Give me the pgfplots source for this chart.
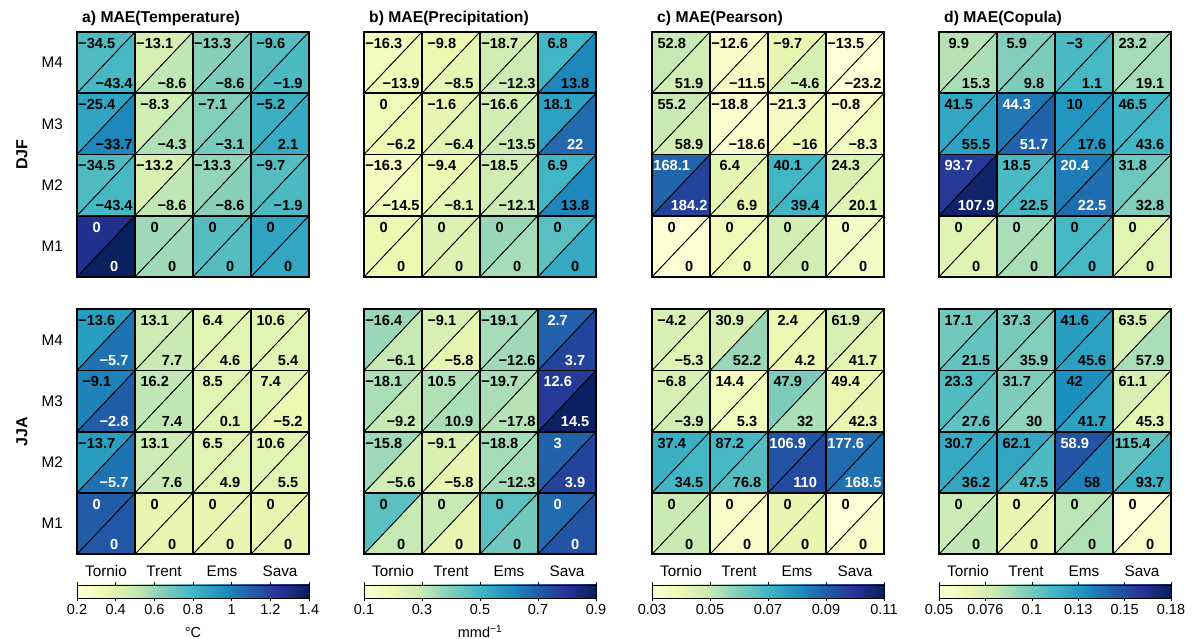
\documentclass[border=0pt]{standalone}
\usepackage{fontspec}
\setmainfont{Liberation Sans}
\usepackage{pgfplots}
\usepackage{pgfplotstable}
\pgfplotsset{compat=1.18}

% fonts
\newcommand\cellfont{\fontsize{14.6}{16}\selectfont\bfseries}
\newcommand\ticksfont{\fontsize{15.3}{17}\selectfont}
\newcommand\cbfont{\fontsize{14.5}{16}\selectfont}
\newcommand\titlefont{\fontsize{15.7}{17}\selectfont\bfseries}
\newcommand\seasonfont{\fontsize{16}{18}\selectfont\bfseries}

% typeset a number with a true minus sign
\newcommand\lbl[1]{\lblsplit#1\relax}
\def\lblsplit#1#2\relax{\ifx-#1\char"2212\relax#2\else#1#2\fi}

\pgfplotsset{
  colormap={ylgnbu}{rgb255(0cm)=(255,255,217); rgb255(1cm)=(237,248,177);
    rgb255(2cm)=(199,233,180); rgb255(3cm)=(127,205,187); rgb255(4cm)=(65,182,196);
    rgb255(5cm)=(29,145,192); rgb255(6cm)=(34,94,168); rgb255(7cm)=(37,52,148);
    rgb255(8cm)=(8,29,88)},
  cellpatch/.style={patch, patch type=triangle, shader=faceted, faceted color=black,
    line width=0.8pt, point meta=explicit, forget plot},
  cellpanel/.style={
    scale only axis, width=232pt, height=245pt,
    xmin=0, xmax=4, ymin=0, ymax=4,
    xtick={0.5,1.5,2.5,3.5}, ytick={0.5,1.5,2.5,3.5},
    xticklabels={}, yticklabels={},
    major tick length=0pt, minor tick length=0pt,
    minor xtick={1,2,3}, minor ytick={1,2,3},
    xminorgrids=true, yminorgrids=true,
    minor grid style={black, line width=1.6pt},
    axis line style={black, line width=1.6pt},
    axis on top,
    colormap name=ylgnbu,
    tick label style={font=\ticksfont},
    xticklabel style={anchor=base, inner sep=0pt, yshift=-22pt},
    yticklabel style={anchor=east, inner sep=0pt, xshift=-14pt},
    title style={at={(0,1)}, anchor=base west, inner sep=0pt, xshift=5pt, yshift=3.5pt, font=\titlefont},
    ylabel style={at={(-0.237,0.5)}, anchor=center, font=\seasonfont},
    anchor=north west,
  },
  jja/.style={cellpanel,
    xticklabels={Tornio,Trent,Ems,Sava},
    colorbar horizontal,
    colorbar shift/.style={},
    colorbar style={
      at={(parent axis.south west)}, anchor=north west, yshift=-30.7pt,
      scale only axis, width=232pt, height=13.3pt,
      axis line style={black, line width=0.8pt},
      xticklabel pos=lower,
      xtick align=outside, major tick length=3pt,
      xtick style={black, line width=0.6pt},
      xticklabel style={font=\cbfont, anchor=base, inner sep=0pt, yshift=-13.7pt},
      xlabel style={at={(0.5,0)}, anchor=base, inner sep=0pt, yshift=-39pt, font=\cbfont},
    }},
}

% draw the 4x4 grid of split cells of one panel from its table
\newcommand\drawcells[1]{%
  \pgfplotsforeachungrouped \cellidx in {0,...,15}{%
    \pgfplotstablegetelem{\cellidx}{col}\of#1\let\cX\pgfplotsretval
    \pgfplotstablegetelem{\cellidx}{row}\of#1\let\cY\pgfplotsretval
    \pgfplotstablegetelem{\cellidx}{ul}\of#1\let\cU\pgfplotsretval
    \pgfplotstablegetelem{\cellidx}{lr}\of#1\let\cL\pgfplotsretval
    \pgfplotstablegetelem{\cellidx}{tu}\of#1\let\tU\pgfplotsretval
    \pgfplotstablegetelem{\cellidx}{tb}\of#1\let\tB\pgfplotsretval
    \pgfplotstablegetelem{\cellidx}{wu}\of#1\let\wU\pgfplotsretval
    \pgfplotstablegetelem{\cellidx}{wb}\of#1\let\wB\pgfplotsretval
    \pgfmathsetmacro\cXX{\cX+1}%
    \pgfmathsetmacro\cYY{\cY+1}%
    \pgfmathsetmacro\uX{\cX+0.34}%
    \pgfmathsetmacro\uY{\cY+0.815}%
    \pgfmathsetmacro\lX{\cX+0.64}%
    \pgfmathsetmacro\lY{\cY+0.165}%
    \ifnum\wU=1 \def\uCol{white}\else\def\uCol{black}\fi
    \ifnum\wB=1 \def\bCol{white}\else\def\bCol{black}\fi
    \edef\cellcmd{%
      \noexpand\addplot[cellpatch] coordinates {(\cX,\cY) [\cU] (\cXX,\cYY) [\cU] (\cX,\cYY) [\cU]
        (\cX,\cY) [\cL] (\cXX,\cY) [\cL] (\cXX,\cYY) [\cL]};
      \noexpand\node[text=\uCol, font=\noexpand\cellfont] at (axis cs:\uX,\uY) {\noexpand\lbl{\tU}};
      \noexpand\node[text=\bCol, font=\noexpand\cellfont] at (axis cs:\lX,\lY) {\noexpand\lbl{\tB}};
    }%
    \cellcmd
  }%
}

% columns: col row, MAE of upper-left / lower-right triangle,
% upper-left / lower-right label, white text flags
\pgfplotstableread{
col row ul    lr    tu    tb    wu wb
0   3   0.764 0.788 -34.5 -43.4 0  0
1   3   0.44  0.512 -13.1 -8.6  0  0
2   3   0.632 0.656 -13.3 -8.6  0  0
3   3   0.752 0.776 -9.6  -1.9  0  0
0   2   0.872 0.98  -25.4 -33.7 0  0
1   2   0.464 0.548 -8.3  -4.3  0  0
2   2   0.644 0.668 -7.1  -3.1  0  0
3   2   0.824 0.848 -5.2  2.1   0  0
0   1   0.764 0.788 -34.5 -43.4 0  0
1   1   0.428 0.512 -13.2 -8.6  0  0
2   1   0.608 0.632 -13.3 -8.6  0  0
3   1   0.752 0.776 -9.7  -1.9  0  0
0   0   1.268 1.388 0     0     1  1
1   0   0.584 0.584 0     0     0  0
2   0   0.752 0.752 0     0     0  0
3   0   0.872 0.86  0     0     0  0
}\aDJF

\pgfplotstableread{
col row ul    lr    tu    tb    wu wb
0   3   0.896 1.04  -13.6 -5.7  0  1
1   3   0.476 0.488 13.1  7.7   0  0
2   3   0.392 0.392 6.4   4.6   0  0
3   3   0.392 0.392 10.6  5.4   0  0
0   2   0.992 1.1   -9.1  -2.8  0  1
1   2   0.512 0.512 16.2  7.4   0  0
2   2   0.392 0.392 8.5   0.1   0  0
3   2   0.392 0.344 7.4   -5.2  0  0
0   1   0.896 1.04  -13.7 -5.7  0  1
1   1   0.476 0.488 13.1  7.6   0  0
2   1   0.392 0.392 6.5   4.9   0  0
3   1   0.392 0.392 10.6  5.5   0  0
0   0   1.112 1.124 0     0     1  1
1   0   0.368 0.368 0     0     0  0
2   0   0.368 0.368 0     0     0  0
3   0   0.368 0.368 0     0     0  0
}\aJJA

\pgfplotstableread{
col row ul    lr    tu    tb    wu wb
0   3   0.164 0.188 -16.3 -13.9 0  0
1   3   0.196 0.22  -9.8  -8.5  0  0
2   3   0.276 0.284 -18.7 -12.3 0  0
3   3   0.5   0.62  6.8   13.8  0  0
0   2   0.18  0.196 0     -6.2  0  0
1   2   0.212 0.228 -1.6  -6.4  0  0
2   2   0.268 0.284 -16.6 -13.5 0  0
3   2   0.556 0.676 18.1  22    0  1
0   1   0.156 0.172 -16.3 -14.5 0  0
1   1   0.196 0.22  -9.4  -8.1  0  0
2   1   0.276 0.284 -18.5 -12.1 0  0
3   1   0.5   0.62  6.9   13.8  0  0
0   0   0.196 0.196 0     0     0  0
1   0   0.244 0.244 0     0     0  0
2   0   0.364 0.348 0     0     0  0
3   0   0.46  0.532 0     0     0  0
}\bDJF

\pgfplotstableread{
col row ul    lr    tu    tb    wu wb
0   3   0.364 0.3   -16.4 -6.1  0  0
1   3   0.252 0.212 -9.1  -5.8  0  0
2   3   0.348 0.356 -19.1 -12.6 0  0
3   3   0.692 0.764 2.7   3.7   1  1
0   2   0.34  0.3   -18.1 -9.2  0  0
1   2   0.332 0.34  10.5  10.9  0  0
2   2   0.34  0.324 -19.7 -17.8 0  0
3   2   0.788 0.884 12.6  14.5  1  1
0   1   0.356 0.276 -15.8 -5.6  0  0
1   1   0.252 0.212 -9.1  -5.8  0  0
2   1   0.348 0.348 -18.8 -12.3 0  0
3   1   0.692 0.764 3     3.9   1  1
0   0   0.46  0.3   0     0     0  0
1   0   0.3   0.212 0     0     0  0
2   0   0.46  0.42  0     0     0  0
3   0   0.676 0.724 0     0     1  1
}\bJJA

\pgfplotstableread{
col row ul     lr     tu    tb    wu wb
0   3   0.05   0.0476 52.8  51.9  0  0
1   3   0.034  0.0356 -12.6 -11.5 0  0
2   3   0.0412 0.046  -9.7  -4.6  0  0
3   3   0.0308 0.0316 -13.5 -23.2 0  0
0   2   0.0492 0.0468 55.2  58.9  0  0
1   2   0.0324 0.0324 -18.8 -18.6 0  0
2   2   0.0356 0.0388 -21.3 -16   0  0
3   2   0.034  0.0364 -0.8  -8.3  0  0
0   1   0.0884 0.0964 168.1 184.2 1  1
1   1   0.042  0.0412 6.4   6.9   0  0
2   1   0.07   0.07   40.1  39.4  0  0
3   1   0.0452 0.0428 24.3  20.1  0  0
0   0   0.0316 0.0316 0     0     0  0
1   0   0.038  0.038  0     0     0  0
2   0   0.0468 0.0468 0     0     0  0
3   0   0.0348 0.0348 0     0     0  0
}\cDJF

\pgfplotstableread{
col row ul     lr     tu    tb    wu wb
0   3   0.046  0.0436 -4.2  -5.3  0  0
1   3   0.0452 0.0564 30.9  52.2  0  0
2   3   0.0396 0.0404 2.4   4.2   0  0
3   3   0.046  0.042  61.9  41.7  0  0
0   2   0.046  0.0476 -6.8  -3.9  0  0
1   2   0.0372 0.0372 14.4  5.3   0  0
2   2   0.0604 0.054  47.9  32    0  0
3   2   0.0404 0.0412 49.4  42.3  0  0
0   1   0.0716 0.07   37.4  34.5  0  0
1   1   0.0692 0.0668 87.2  76.8  0  0
2   1   0.0924 0.0948 106.9 110   1  1
3   1   0.0876 0.086  177.6 168.5 1  1
0   0   0.0492 0.0492 0     0     0  0
1   0   0.034  0.034  0     0     0  0
2   0   0.0412 0.0412 0     0     0  0
3   0   0.0308 0.0332 0     0     0  0
}\cJJA

\pgfplotstableread{
col row ul     lr     tu    tb    wu wb
0   3   0.0864 0.089  9.9   15.3  0  0
1   3   0.0981 0.0994 5.9   9.8   0  0
2   3   0.1124 0.1137 -3    1.1   0  0
3   3   0.0903 0.0903 23.2  19.1  0  0
0   2   0.1215 0.1241 41.5  55.5  0  0
1   2   0.1397 0.1462 44.3  51.7  1  1
2   2   0.1293 0.1293 10    17.6  0  0
3   2   0.1163 0.115  46.5  43.6  0  0
0   1   0.1618 0.1748 93.7  107.9 1  1
1   1   0.1124 0.1137 18.5  22.5  0  0
2   1   0.1384 0.1423 20.4  22.5  1  1
3   1   0.1033 0.0981 31.8  32.8  0  0
0   0   0.0721 0.0721 0     0     0  0
1   0   0.089  0.089  0     0     0  0
2   0   0.1137 0.1137 0     0     0  0
3   0   0.0708 0.0708 0     0     0  0
}\dDJF

\pgfplotstableread{
col row ul     lr     tu    tb    wu wb
0   3   0.102  0.1059 17.1  21.5  0  0
1   3   0.1007 0.0981 37.3  35.9  0  0
2   3   0.1254 0.1241 41.6  45.6  0  0
3   3   0.076  0.089  63.5  57.9  0  0
0   2   0.1111 0.1072 23.3  27.6  0  0
1   2   0.0994 0.0955 31.7  30    0  0
2   2   0.1319 0.1241 42    41.7  0  0
3   2   0.076  0.0695 61.1  45.3  0  0
0   1   0.1202 0.1215 30.7  36.2  0  0
1   1   0.1215 0.1124 62.1  47.5  0  0
2   1   0.1514 0.1358 58.9  58    1  0
3   1   0.1059 0.1176 115.4 93.7  0  0
0   0   0.0799 0.0838 0     0     0  0
1   0   0.0682 0.0682 0     0     0  0
2   0   0.0851 0.0877 0     0     0  0
3   0   0.05   0.0565 0     0     0  0
}\dJJA

\begin{document}
\begin{tikzpicture}
\useasboundingbox (0,0) rectangle (1194pt,639pt);

% ---- DJF row ----
\begin{axis}[cellpanel, at={(77pt,607pt)},
  point meta min=0.2, point meta max=1.4,
  yticklabels={M1,M2,M3,M4}, ylabel={DJF},
  title={a) MAE(Temperature)}]
\drawcells{\aDJF}
\end{axis}

\begin{axis}[cellpanel, at={(364pt,607pt)},
  point meta min=0.1, point meta max=0.9,
  title={b) MAE(Precipitation)}]
\drawcells{\bDJF}
\end{axis}

\begin{axis}[cellpanel, at={(652pt,607pt)},
  point meta min=0.03, point meta max=0.11,
  title={c) MAE(Pearson)}]
\drawcells{\cDJF}
\end{axis}

\begin{axis}[cellpanel, at={(939pt,607pt)},
  point meta min=0.05, point meta max=0.18,
  title={d) MAE(Copula)}]
\drawcells{\dDJF}
\end{axis}

% ---- JJA row ----
\begin{axis}[jja, at={(77pt,329.7pt)},
  point meta min=0.2, point meta max=1.4,
  yticklabels={M1,M2,M3,M4}, ylabel={JJA},
  colorbar style={xtick={0.2,0.4,0.6,0.8,1,1.2,1.4},
    xticklabels={0.2,0.4,0.6,0.8,1,1.2,1.4}, xlabel={°C}}]
\drawcells{\aJJA}
\end{axis}

\begin{axis}[jja, at={(364pt,329.7pt)},
  point meta min=0.1, point meta max=0.9,
  colorbar style={xtick={0.1,0.3,0.5,0.7,0.9},
    xticklabels={0.1,0.3,0.5,0.7,0.9}, xlabel={mmd\textsuperscript{\char"2212\relax 1}}}]
\drawcells{\bJJA}
\end{axis}

\begin{axis}[jja, at={(652pt,329.7pt)},
  point meta min=0.03, point meta max=0.11,
  colorbar style={xtick={0.03,0.05,0.07,0.09,0.11},
    xticklabels={0.03,0.05,0.07,0.09,0.11}}]
\drawcells{\cJJA}
\end{axis}

\begin{axis}[jja, at={(939pt,329.7pt)},
  point meta min=0.05, point meta max=0.18,
  colorbar style={xtick={0.05,0.076,0.102,0.128,0.154,0.18},
    xticklabels={0.05,0.076,0.1,0.13,0.15,0.18}}]
\drawcells{\dJJA}
\end{axis}
\end{tikzpicture}
\end{document}
